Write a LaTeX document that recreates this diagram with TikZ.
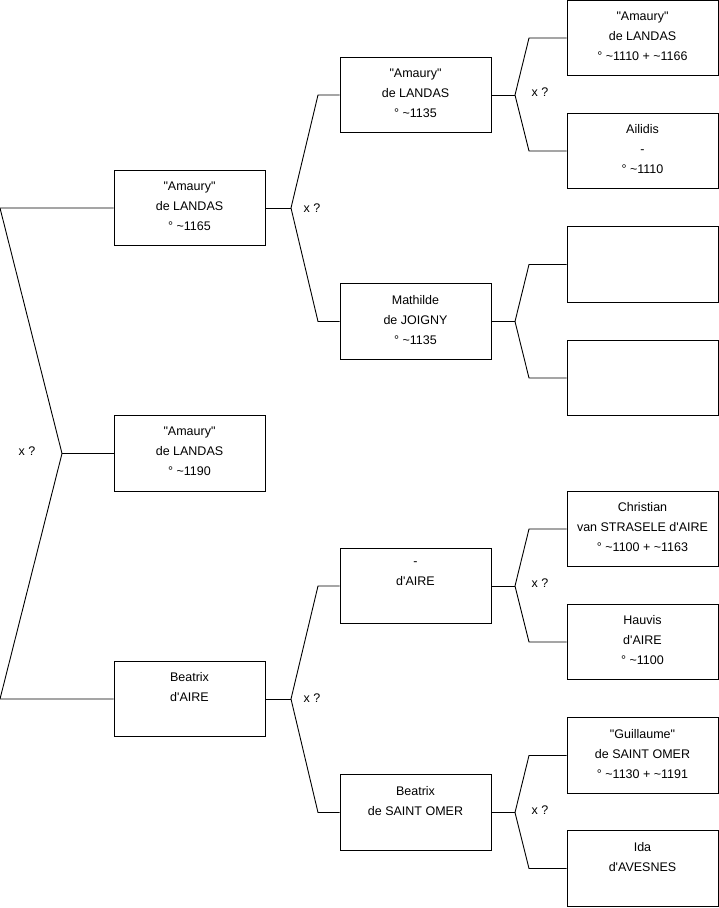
\documentclass[tikz,border=0pt]{standalone}
\usepackage{fontspec}
\setmainfont{Liberation Sans}[Ligatures=TeXOff]
\usetikzlibrary{positioning}

\tikzset{
  person/.style={draw, line width=0.9pt, minimum width=151pt, minimum height=75.5pt,
    inner sep=0pt, text depth=4pt, align=center, font=\fontsize{12.5}{20}\selectfont},
  link/.style={line width=0.9pt},
  couple/.style={font=\fontsize{12.5}{15}\selectfont}
}

\begin{document}
\begin{tikzpicture}[x=1pt,y=-1pt]
  \useasboundingbox (0,0) rectangle (719,908);
  % generation 1 and 2
  \node[person] (root) at (189.5,453.5) {"Amaury"\\de LANDAS\\° \textasciitilde1190};
  \node[person] (fa) at (189.5,208) {"Amaury"\\de LANDAS\\° \textasciitilde1165};
  \node[person] (mo) at (189.5,699) {Beatrix\\d'AIRE\\\mbox{}};
  % generation 3
  \node[person] (ff) at (415.5,95) {"Amaury"\\de LANDAS\\° \textasciitilde1135};
  \node[person] (fm) at (415.5,321.5) {Mathilde\\de JOIGNY\\° \textasciitilde1135};
  \node[person] (mf) at (415.5,586) {-\\d'AIRE\\\mbox{}};
  \node[person] (mm) at (415.5,812.5) {Beatrix\\de SAINT OMER\\\mbox{}};
  % generation 4
  \node[person] (fff) at (642.5,38) {"Amaury"\\de LANDAS\\° \textasciitilde1110 + \textasciitilde1166};
  \node[person] (ffm) at (642.5,151) {Ailidis\\-\\° \textasciitilde1110};
  \node[person] (fmf) at (642.5,264.5) {};
  \node[person] (fmm) at (642.5,378) {};
  \node[person] (mff) at (642.5,529) {Christian\\van STRASELE d'AIRE\\° \textasciitilde1100 + \textasciitilde1163};
  \node[person] (mfm) at (642.5,642) {Hauvis\\d'AIRE\\° \textasciitilde1100};
  \node[person] (mmf) at (642.5,755.5) {"Guillaume"\\de SAINT OMER\\° \textasciitilde1130 + \textasciitilde1191};
  \node[person] (mmm) at (642.5,868.5) {Ida\\d'AVESNES\\\mbox{}};

  % forks
  \coordinate (v0) at (62,453.5);
  \draw[link] (root.west) -- (v0);
  \draw[link] (fa.west) -- (0,208) -- (v0) -- (0,699) -- (mo.west);
  \node[couple] (x0) at (27,451) {x ?};

  \coordinate (v1) at (291,208);
  \draw[link] (fa.east) -- (v1);
  \draw[link] (ff.west) -- (318,95) -- (v1) -- (318,321.5) -- (fm.west);
  \node[couple] (x1) at (312,208) {x ?};

  \coordinate (v2) at (291,699);
  \draw[link] (mo.east) -- (v2);
  \draw[link] (mf.west) -- (318,586) -- (v2) -- (318,812.5) -- (mm.west);
  \node[couple] (x2) at (312,698) {x ?};

  \coordinate (v3) at (515,95);
  \draw[link] (ff.east) -- (v3);
  \draw[link] (fff.west) -- (529,38) -- (v3) -- (529,151) -- (ffm.west);
  \node[couple] (x3) at (540,92) {x ?};

  \coordinate (v4) at (515,321.5);
  \draw[link] (fm.east) -- (v4);
  \draw[link] (fmf.west) -- (529,264.5) -- (v4) -- (529,378) -- (fmm.west);

  \coordinate (v5) at (515,586);
  \draw[link] (mf.east) -- (v5);
  \draw[link] (mff.west) -- (529,529) -- (v5) -- (529,642) -- (mfm.west);
  \node[couple] (x5) at (540,583) {x ?};

  \coordinate (v6) at (515,812.5);
  \draw[link] (mm.east) -- (v6);
  \draw[link] (mmf.west) -- (529,755.5) -- (v6) -- (529,868.5) -- (mmm.west);
  \node[couple] (x6) at (540,810) {x ?};
\end{tikzpicture}
\end{document}
